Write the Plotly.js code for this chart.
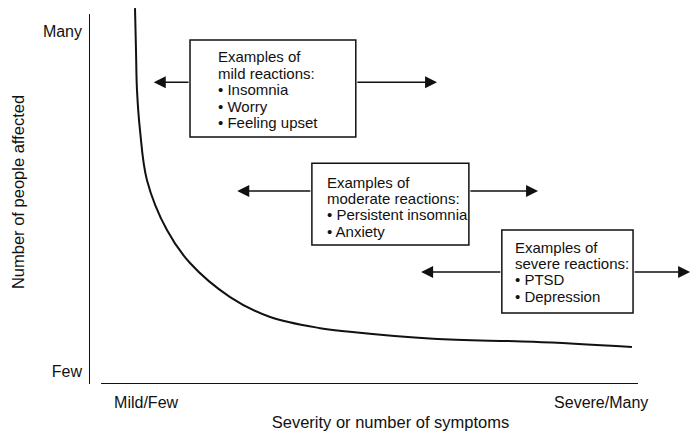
<!DOCTYPE html>
<html>
<head>
<meta charset="utf-8">
<script src="https://cdn.plot.ly/plotly-3.0.1.min.js"></script>
<style>
  html, body { margin: 0; padding: 0; background: #fff; }
  #chart { width: 692px; height: 432px; }
</style>
</head>
<body>
<div id="chart"></div>
<script>
// ---- Data ----
const severity       = [8.38, 8.56, 8.74, 9.29, 10.56, 14.2, 18.4, 25.7, 33.0, 42.1, 47.5, 62.7, 80.9, 98.9];
const peopleAffected = [101.6, 90.3, 79.5, 68.6, 55.1, 41.6, 32.7, 23.5, 18.1, 15.1, 14.1, 12.2, 11.4, 10.0];

const xTickVals = [10.4, 93.3];
const xTickText = ["Mild/Few", "Severe/Many"];
const yTickVals = [95.4, 3.5];
const yTickText = ["Many", "Few"];

const xTitle = "Severity or number of symptoms";
const yTitle = "Number of people affected";

const mildLines     = ["Examples of", "mild reactions:", "• Insomnia", "• Worry", "• Feeling upset"];
const moderateLines = ["Examples of", "moderate reactions:", "• Persistent insomnia", "• Anxiety"];
const severeLines   = ["Examples of", "severe reactions:", "• PTSD", "• Depression"];

// ---- Layout of the boxes (positions in axis units) ----
const boxes = [
  { lines: mildLines,     x0: 18.4, x1: 48.6, y0: 66.8, y1: 93.0, tx: 23.1, ty: 88.4, ay: 81.6, left: 11.8, right: 63.4 },
  { lines: moderateLines, x0: 40.6, x1: 69.2, y0: 37.6, y1: 59.7, tx: 43.0, ty: 54.6, ay: 52.2, left: 27.0, right: 81.8 },
  { lines: severeLines,   x0: 75.2, x1: 99.1, y0: 19.2, y1: 41.6, tx: 77.2, ty: 37.0, ay: 30.3, left: 60.5, right: 109.5 }
];

const INK = "#111111";
const FONT = "Liberation Sans, Arial, Helvetica, sans-serif";
const LINE_PX = 16.4;

const shapes = [
  // y axis line
  { type: "line", xref: "x", yref: "y", x0: 0, x1: 0, y0: 0, y1: 100, line: { color: INK, width: 2 } },
  // x axis line
  { type: "line", xref: "x", yref: "y", x0: 2.2, x1: 100, y0: 0, y1: 0, line: { color: INK, width: 2 } }
];
const annotations = [];

boxes.forEach(b => {
  shapes.push({ type: "rect", xref: "x", yref: "y", x0: b.x0, x1: b.x1, y0: b.y0, y1: b.y1,
    line: { color: INK, width: 1.5 }, fillcolor: "rgba(0,0,0,0)" });
  b.lines.forEach((t, i) => {
    annotations.push({ x: b.tx, y: b.ty, xref: "x", yref: "y", text: t, showarrow: false,
      xanchor: "left", yanchor: "middle", yshift: -i * LINE_PX,
      font: { family: FONT, size: 15, color: INK } });
  });
  // left arrow
  annotations.push({ x: b.left, y: b.ay, ax: b.x0, ay: b.ay, xref: "x", yref: "y", axref: "x", ayref: "y",
    text: "", showarrow: true, arrowhead: 2, arrowsize: 1.6, arrowwidth: 1.5, arrowcolor: INK, standoff: 0, startstandoff: 0 });
  // right arrow
  annotations.push({ x: b.right, y: b.ay, ax: b.x1, ay: b.ay, xref: "x", yref: "y", axref: "x", ayref: "y",
    text: "", showarrow: true, arrowhead: 2, arrowsize: 1.6, arrowwidth: 1.5, arrowcolor: INK, standoff: 0, startstandoff: 0 });
});

const trace = {
  x: severity, y: peopleAffected, type: "scatter", mode: "lines",
  line: { color: INK, width: 2, shape: "spline", smoothing: 1 },
  hoverinfo: "skip"
};

const layout = {
  width: 692, height: 432,
  margin: { l: 89, r: 0, t: 0, b: 48 },
  paper_bgcolor: "#ffffff", plot_bgcolor: "#ffffff",
  showlegend: false,
  font: { family: FONT, color: INK, size: 16 },
  xaxis: {
    range: [0, 109.84], showgrid: false, zeroline: false, showline: false, ticks: "",
    tickmode: "array", tickvals: xTickVals, ticktext: xTickText, ticklabelstandoff: 7,
    tickfont: { family: FONT, size: 16, color: INK },
    title: { text: xTitle, font: { family: FONT, size: 16.5, color: INK }, standoff: 6 },
    fixedrange: true
  },
  yaxis: {
    range: [0, 103.8], showgrid: false, zeroline: false, showline: false, ticks: "",
    tickmode: "array", tickvals: yTickVals, ticktext: yTickText, ticklabelstandoff: 6,
    tickfont: { family: FONT, size: 16, color: INK },
    title: { text: yTitle, font: { family: FONT, size: 16.5, color: INK }, standoff: 14 },
    fixedrange: true
  },
  shapes: shapes,
  annotations: annotations
};

Plotly.newPlot("chart", [trace], layout, { staticPlot: true, displayModeBar: false });
</script>
</body>
</html>
